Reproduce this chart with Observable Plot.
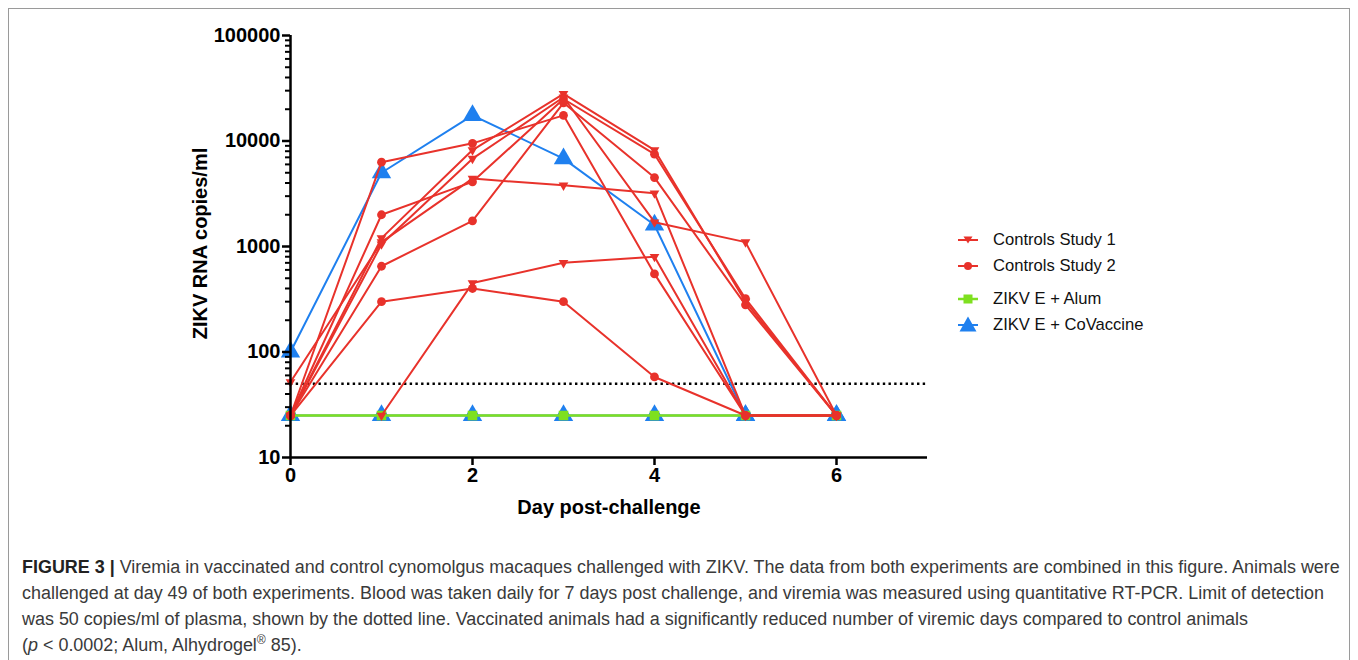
<!DOCTYPE html>
<html><head><meta charset="utf-8">
<script src="https://cdn.jsdelivr.net/npm/d3@7"></script>
<script src="https://cdn.jsdelivr.net/npm/@observablehq/plot@0.6"></script>
<style>
html,body{margin:0;padding:0;background:#fff;}
#fig{position:relative;width:1358px;height:660px;overflow:hidden;font-family:"Liberation Sans",Arial,sans-serif;background:#fff;}
#border{position:absolute;left:8px;top:8px;width:1342px;height:670px;border:1px solid #9a9a9a;box-sizing:border-box;}
#chart{position:absolute;left:0;top:0;}
.lg{position:absolute;left:956px;height:26px;display:flex;align-items:center;font-size:16.6px;color:#111;white-space:nowrap;}
.lg svg{margin-right:13px;}
#caption{position:absolute;left:22px;top:554px;font-size:16px;line-height:26px;color:#3a3a3a;white-space:nowrap;}
#caption div{height:26px;}
#caption b{color:#222;}
#caption sup{font-size:0.68em;line-height:0;vertical-align:0.55em;}
</style></head>
<body>
<div id="fig">
  <div id="border"></div>
  <div id="chart"></div>
  <div id="legend"></div>
  <div id="caption">
    <div><span id="cap1"><b>FIGURE 3 |</b> Viremia in vaccinated and control cynomolgus macaques challenged with ZIKV. The data from both experiments are combined in this figure. Animals were</span></div>
    <div>challenged at day 49 of both experiments. Blood was taken daily for 7 days post challenge, and viremia was measured using quantitative RT-PCR. Limit of detection</div>
    <div>was 50 copies/ml of plasma, shown by the dotted line. Vaccinated animals had a significantly reduced number of viremic days compared to control animals</div>
    <div>(<i>p</i> &lt; 0.0002; Alum, Alhydrogel<sup>®</sup> 85).</div>
  </div>
</div>
<script>
// ---- data ----
const days = [0, 1, 2, 3, 4, 5, 6];
const yTicks = [10, 100, 1000, 10000, 100000];
const xTicks = [0, 2, 4, 6];
const limitOfDetection = 50;
// Controls Study 1 (one array per animal; null = no point drawn)
const study1A = [25, 1200, 8200, 28000, 8200, 300, 25];
const study1B = [52, 1100, 4400, 3800, 3200, 25, 25];
const study1C = [null, 25, 450, 700, 800, 25, 25];
const study1D = [25, 1050, 6800, 26000, 1700, 1100, 25];
// Controls Study 2
const study2A = [25, 6300, 9500, 17500, 550, 25, 25];
const study2B = [25, 2000, 4100, 25000, 7500, 320, 25];
const study2C = [25, 650, 1750, 23000, 4500, 280, 25];
const study2D = [25, 300, 400, 300, 58, 25, 25];
// ZIKV E + Alum
const alumA = [25, 25, 25, 25, 25, 25, 25];
// ZIKV E + CoVaccine
const coVacA = [100, 5000, 17500, 6800, 1600, 25, 25];
const coVacB = [25, 25, 25, 25, 25, 25, 25];

const seriesNames = ["Controls Study 1", "Controls Study 2", "ZIKV E + Alum", "ZIKV E + CoVaccine"];
const RED = "#e8322b", GREEN = "#7ee01f", BLUE = "#1f80ef";

const rows = (vals, animal) => vals.map((v, i) => ({day: days[i], value: v, animal}));
const s1 = [study1A, study1B, study1C, study1D].flatMap((a, k) => rows(a, "s1-" + k));
const s2 = [study2A, study2B, study2C, study2D].flatMap((a, k) => rows(a, "s2-" + k));
const alum = [alumA].flatMap((a, k) => rows(a, "al-" + k));
const cov = [coVacA, coVacB].flatMap((a, k) => rows(a, "cv-" + k));

const triDown = {
  draw(ctx, size) {
    const s = Math.sqrt(4 * size / Math.sqrt(3));
    const h = s * Math.sqrt(3) / 2;
    ctx.moveTo(0, 2 * h / 3);
    ctx.lineTo(-s / 2, -h / 3);
    ctx.lineTo(s / 2, -h / 3);
    ctx.closePath();
  }
};

const minorY = [];
for (let e = 1; e < 5; e++) for (let m = 2; m <= 9; m++) minorY.push(m * Math.pow(10, e));

const plot = Plot.plot({
  width: 940, height: 530,
  marginLeft: 290, marginRight: 13, marginTop: 35, marginBottom: 73,
  style: {fontFamily: "'Liberation Sans', Arial, sans-serif", color: "#000", background: "transparent", overflow: "visible"},
  x: {domain: [0, 7]},
  y: {type: "log", domain: [10, 100000]},
  marks: [
    Plot.ruleY([limitOfDetection], {stroke: "#000", strokeWidth: 2.6, strokeDasharray: "2.4,3.3"}),
    Plot.line(cov, {x: "day", y: "value", z: "animal", stroke: BLUE, strokeWidth: 2}),
    Plot.dot(cov, {x: "day", y: "value", symbol: "triangle", r: 7.2, fill: BLUE, stroke: null}),
    Plot.line(alum, {x: "day", y: "value", z: "animal", stroke: GREEN, strokeWidth: 2.5}),
    Plot.dot(alum, {x: "day", y: "value", symbol: "square", r: 5.4, fill: GREEN, stroke: null}),
    Plot.line(s1, {x: "day", y: "value", z: "animal", stroke: RED, strokeWidth: 2}),
    Plot.dot(s1, {x: "day", y: "value", symbol: triDown, r: 3.6, fill: RED, stroke: null}),
    Plot.line(s2, {x: "day", y: "value", z: "animal", stroke: RED, strokeWidth: 2}),
    Plot.dot(s2, {x: "day", y: "value", r: 4.4, fill: RED, stroke: null}),
    Plot.axisY({ticks: minorY, tickFormat: () => "", tickSize: 5, strokeWidth: 2, label: null}),
    Plot.axisY({ticks: yTicks, tickFormat: d => String(d), tickSize: 8, tickPadding: 2, strokeWidth: 2.5, fontSize: 20, fontWeight: "bold", label: null}),
    Plot.axisX({ticks: xTicks, tickFormat: d => String(d), tickSize: 8, tickPadding: 2, strokeWidth: 2.5, fontSize: 20, fontWeight: "bold", label: null}),
    Plot.ruleX([0], {strokeWidth: 2.5, stroke: "#000"}),
    Plot.ruleY([10], {strokeWidth: 2.5, stroke: "#000"}),
    Plot.text(["ZIKV RNA copies/ml"], {frameAnchor: "left", dx: -90, dy: -3, rotate: -90, textAnchor: "middle", lineAnchor: "middle", fontSize: 20, fontWeight: "bold", fill: "#000"}),
    Plot.text(["Day post-challenge"], {frameAnchor: "bottom", dy: 50, textAnchor: "middle", lineAnchor: "middle", fontSize: 20, fontWeight: "bold", fill: "#000"})
  ]
});
document.getElementById("chart").appendChild(plot);

// legend
const legendTops = [227, 253, 286, 312];
const sw = [
  `<line x1="2" y1="13" x2="22" y2="13" stroke="${RED}" stroke-width="2"/><path d="M7.5,9.5 L16.5,9.5 L12,16.5 Z" fill="${RED}"/>`,
  `<line x1="2" y1="13" x2="22" y2="13" stroke="${RED}" stroke-width="2"/><circle cx="12" cy="13" r="4" fill="${RED}"/>`,
  `<line x1="2" y1="13" x2="22" y2="13" stroke="${GREEN}" stroke-width="2.5"/><rect x="7.5" y="8.5" width="9" height="9" fill="${GREEN}"/>`,
  `<line x1="2" y1="13" x2="22" y2="13" stroke="${BLUE}" stroke-width="2"/><path d="M12,4.5 L20.5,19.5 L3.5,19.5 Z" fill="${BLUE}"/>`
];
const lg = document.getElementById("legend");
seriesNames.forEach((name, i) => {
  const d = document.createElement("div");
  d.className = "lg";
  d.style.top = legendTops[i] + "px";
  d.innerHTML = `<svg width="24" height="26">${sw[i]}</svg><span>${name}</span>`;
  lg.appendChild(d);
});

// fit caption width to the reference (first line spans ~1318px)
const cap = document.getElementById("caption");
const w = document.getElementById("cap1").getBoundingClientRect().width;
if (w > 0) cap.style.fontSize = (16 * 1318 / w).toFixed(2) + "px";
</script>
</body></html>
